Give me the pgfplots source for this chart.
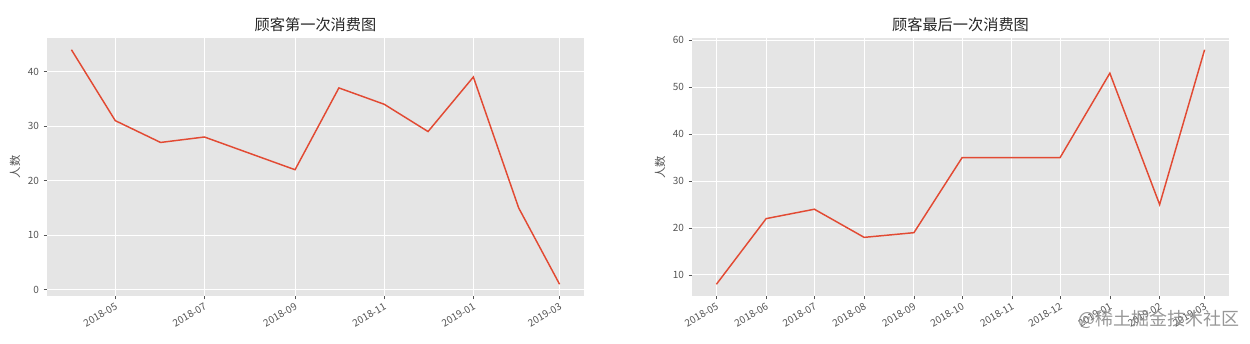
\documentclass[border=0pt]{standalone}
\usepackage{fontspec}
\setmainfont{Noto Sans CJK SC}
\usepackage{pgfplots}
\pgfplotsset{compat=1.18}
\definecolor{bgc}{HTML}{E5E5E5}
\definecolor{linec}{HTML}{E24A33}
\definecolor{tickc}{HTML}{555555}
\pgfplotsset{
  ggstyle/.style={
    scale only axis,
    width=402.75pt, height=193.5pt,
    axis background/.style={fill=bgc},
    axis line style={draw=none},
    grid=major,
    major grid style={white, line width=0.75pt},
    tick align=outside,
    major tick length=2.5pt,
    tick style={tickc, line width=0.5pt},
    xtick pos=bottom, ytick pos=left,
    ticklabel style={font=\fontsize{7.5}{9}\selectfont, text=tickc},
    x tick label style={rotate=30, anchor=north east, inner sep=1.5pt},
    /pgf/number format/assume math mode=true,
    title style={font=\fontsize{11.4}{13}\selectfont, text=black!85, at={(0.5,1)}, anchor=south, yshift=-5pt},
    ylabel style={font=\fontsize{8.5}{10}\selectfont, text=tickc, at={(axis description cs:-0.0596,0.5)}, anchor=center},
  }
}
\begin{document}
\begin{tikzpicture}
\path[use as bounding box] (0,0) rectangle (937.5pt,257.25pt);
% Left: first purchase (days since 2018-04-01)
\begin{axis}[ggstyle,
  at={(35.25pt,35.25pt)}, anchor=south west,
  title={顾客第一次消费图},
  ylabel={人数},
  xmin=-16.7, xmax=350.7,
  ymin=-1.15, ymax=46.15,
  ytick={0,10,20,30,40},
  xtick={30,91,153,214,275,334},
  xticklabels={2018-05,2018-07,2018-09,2018-11,2019-01,2019-03},
]
\addplot[linec, line width=1.1pt] coordinates {
(0,44) (30,31) (61,27) (91,28) (122,25) (153,22) (183,37) (214,34) (244,29) (275,39) (306,15) (334,1)
};
\end{axis}
% Right: last purchase (days since 2018-05-01)
\begin{axis}[ggstyle,
  at={(519pt,35.25pt)}, anchor=south west,
  title={顾客最后一次消费图},
  ylabel={人数},
  xmin=-15.2, xmax=319.2,
  ymin=5.5, ymax=60.5,
  ytick={10,20,30,40,50,60},
  xtick={0,31,61,92,123,153,184,214,245,276,304},
  xticklabels={2018-05,2018-06,2018-07,2018-08,2018-09,2018-10,2018-11,2018-12,2019-01,2019-02,2019-03},
]
\addplot[linec, line width=1.1pt] coordinates {
(0,8) (31,22) (61,24) (92,18) (123,19) (153,35) (184,35) (214,35) (245,53) (276,25) (304,58)
};
\end{axis}
\node[text=black!45, opacity=0.9, font=\fontsize{13.5}{15}\selectfont] at (869pt,17.5pt) {@稀土掘金技术社区};
\end{tikzpicture}
\end{document}
